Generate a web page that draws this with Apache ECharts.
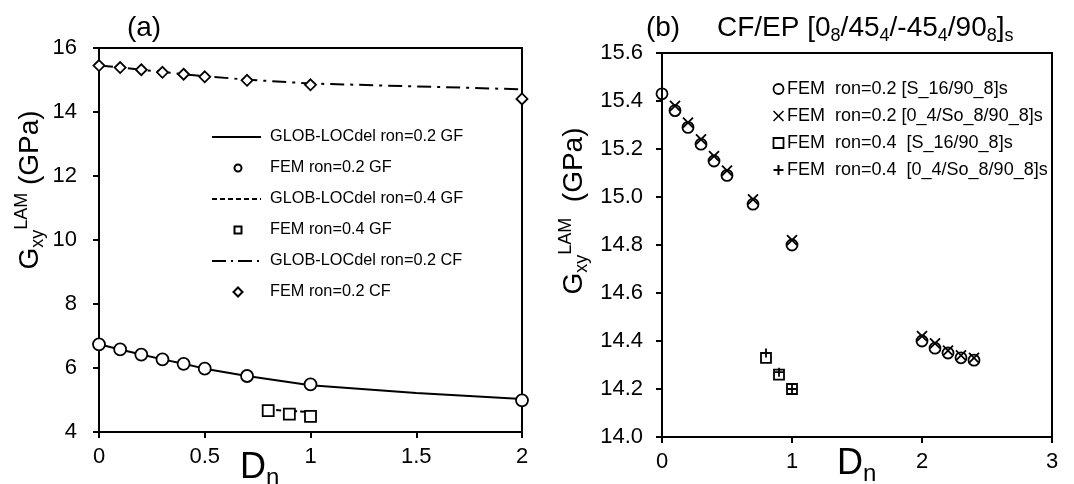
<!DOCTYPE html>
<html>
<head>
<meta charset="utf-8">
<script src="https://cdn.jsdelivr.net/npm/echarts@6/dist/echarts.min.js"></script>
<style>
  html, body { margin: 0; padding: 0; background: #fff; }
  #chart { width: 1074px; height: 484px; }
</style>
</head>
<body>
<div id="chart"></div>
<script>
const FONT = '"Liberation Sans", Arial, sans-serif';

// panel (a): GF and CF laminates
const aX = [0, 0.1, 0.2, 0.3, 0.4, 0.5, 0.7, 1, 2];
const aFemGF02 = [6.74, 6.58, 6.42, 6.27, 6.13, 5.98, 5.75, 5.49, 4.99];
const aFemCF02 = [15.45, 15.39, 15.32, 15.24, 15.18, 15.10, 14.99, 14.85, 14.41];
const aGlobX = [0, 0.1, 0.2, 0.3, 0.4, 0.5, 0.7, 1, 1.5, 2];
const aGlobGF02 = [6.74, 6.58, 6.42, 6.27, 6.13, 5.98, 5.75, 5.46, 5.22, 5.03];
const aGlobCF02 = [15.45, 15.39, 15.32, 15.25, 15.18, 15.12, 15.01, 14.89, 14.80, 14.71];
const aX04 = [0.8, 0.9, 1];
const aFemGF04 = [4.67, 4.56, 4.49];
const aGlobGF04 = [4.70, 4.66, 4.62];

// panel (b): CF/EP [0_8/45_4/-45_4/90_8]s
const bX02 = [0, 0.1, 0.2, 0.3, 0.4, 0.5, 0.7, 1, 2, 2.1, 2.2, 2.3, 2.4];
const bS16 = [15.43, 15.36, 15.29, 15.22, 15.15, 15.09, 14.97, 14.80, 14.40, 14.37, 14.35, 14.33, 14.32];
const bXso = [0.1, 0.2, 0.3, 0.4, 0.5, 0.7, 1, 2, 2.1, 2.2, 2.3, 2.4];
const bSo8 = [15.38, 15.31, 15.24, 15.17, 15.11, 14.99, 14.82, 14.42, 14.39, 14.36, 14.34, 14.33];
const bX04 = [0.8, 0.9, 1];
const bS16r04 = [14.33, 14.26, 14.20];
const bSo8r04 = [14.35, 14.27, 14.20];

const aLegend = [
  'GLOB-LOCdel ron=0.2 GF', 'FEM ron=0.2 GF',
  'GLOB-LOCdel ron=0.4 GF', 'FEM ron=0.4 GF',
  'GLOB-LOCdel ron=0.2 CF', 'FEM ron=0.2 CF'
];
const bLegend = [
  'FEM  ron=0.2 [S_16/90_8]s', 'FEM  ron=0.2 [0_4/So_8/90_8]s',
  'FEM  ron=0.4  [S_16/90_8]s', 'FEM  ron=0.4  [0_4/So_8/90_8]s'
];

const zip = (xs, ys) => xs.map((x, i) => [x, ys[i]]);

const CROSS = 'path://M0,0L10,10M0,10L10,0';
const PLUS = 'path://M5,0L5,10M0,5L10,5';

const axisCommon = {
  axisLine: { show: true, onZero: false, lineStyle: { color: '#000', width: 2 } },
  axisTick: { show: true, inside: false, length: 6, lineStyle: { color: '#000', width: 2 } },
  splitLine: { show: false },
  axisLabel: { color: '#000', fontSize: 22, fontFamily: FONT }
};

const markerStyle = { color: '#fff', borderColor: '#000', borderWidth: 1.8, opacity: 1 };
const strokeOnly = { color: 'rgba(0,0,0,0)', borderColor: '#000', borderWidth: 1.8, opacity: 1 };

const lineSeries = (name, data, type, ax) => ({
  name, type: 'line', data, xAxisIndex: ax, yAxisIndex: ax,
  showSymbol: false, symbol: 'none', z: 2, silent: true,
  lineStyle: { color: '#000', width: 2, type }
});
const dotSeries = (name, data, symbol, size, style, ax, z) => ({
  name, type: 'scatter', data, xAxisIndex: ax, yAxisIndex: ax,
  symbol, symbolSize: size, itemStyle: style, z: z || 3, silent: true
});

// legend rows drawn by hand, panel (a)
const aRowY = aLegend.map((_, i) => 137 + 31 * i);
const aDashes = ['solid', null, [5, 3], null, [14, 5, 2, 5], null];
const legendA = [];
aLegend.forEach((t, i) => {
  const y = aRowY[i];
  if (aDashes[i]) {
    legendA.push({ type: 'line', shape: { x1: 212, y1: y, x2: 261, y2: y },
      style: { stroke: '#000', lineWidth: 2, lineDash: aDashes[i] === 'solid' ? null : aDashes[i] } });
  }
  legendA.push({ type: 'text', x: 270, y, style: { text: t, font: '16.3px ' + FONT, fill: '#000', verticalAlign: 'middle' } });
});
legendA.push({ type: 'circle', shape: { cx: 238, cy: aRowY[1], r: 3.5 }, style: { fill: '#fff', stroke: '#000', lineWidth: 2 } });
legendA.push({ type: 'rect', shape: { x: 234.5, y: aRowY[3] - 3.5, width: 7, height: 7 }, style: { fill: '#fff', stroke: '#000', lineWidth: 2 } });
legendA.push({ type: 'polygon', shape: { points: [[238, aRowY[5] - 4.5], [242.5, aRowY[5]], [238, aRowY[5] + 4.5], [233.5, aRowY[5]]] }, style: { fill: '#fff', stroke: '#000', lineWidth: 2 } });

// legend rows, panel (b)
const bRowY = bLegend.map((_, i) => 89 + 27 * i);
const legendB = [];
bLegend.forEach((t, i) => {
  legendB.push({ type: 'text', x: 787, y: bRowY[i], style: { text: t, font: '18px ' + FONT, fill: '#000', verticalAlign: 'middle' } });
});
const sx = 778.5;
legendB.push({ type: 'circle', shape: { cx: sx, cy: bRowY[0], r: 5 }, style: { fill: 'none', stroke: '#000', lineWidth: 1.8 } });
legendB.push({ type: 'polyline', shape: { points: [[sx - 5, bRowY[1] - 5], [sx + 5, bRowY[1] + 5]] }, style: { stroke: '#000', lineWidth: 1.5 } });
legendB.push({ type: 'polyline', shape: { points: [[sx - 5, bRowY[1] + 5], [sx + 5, bRowY[1] - 5]] }, style: { stroke: '#000', lineWidth: 1.5 } });
legendB.push({ type: 'rect', shape: { x: sx - 5, y: bRowY[2] - 5, width: 10, height: 10 }, style: { fill: 'none', stroke: '#000', lineWidth: 1.8 } });
legendB.push({ type: 'polyline', shape: { points: [[sx, bRowY[3] - 5], [sx, bRowY[3] + 5]] }, style: { stroke: '#000', lineWidth: 2 } });
legendB.push({ type: 'polyline', shape: { points: [[sx - 5, bRowY[3]], [sx + 5, bRowY[3]]] }, style: { stroke: '#000', lineWidth: 2 } });

const subRich = {
  m: { fontSize: 28, fontFamily: FONT, lineHeight: 34, verticalAlign: 'middle' },
  sub: { fontSize: 18, fontFamily: FONT, lineHeight: 18, verticalAlign: 'bottom' },
  sup: { fontSize: 18, fontFamily: FONT, lineHeight: 20, verticalAlign: 'top' }
};
const dRich = {
  m: { fontSize: 36, fontFamily: FONT, lineHeight: 44 },
  sub: { fontSize: 24, fontFamily: FONT, lineHeight: 22, verticalAlign: 'bottom' }
};

const texts = [
  { type: 'text', x: 144, y: 28, style: { text: '(a)', font: '28px ' + FONT, fill: '#000', align: 'center', verticalAlign: 'middle' } },
  { type: 'text', x: 663, y: 28, style: { text: '(b)', font: '28px ' + FONT, fill: '#000', align: 'center', verticalAlign: 'middle' } },
  { type: 'text', x: 717, y: 28, style: {
      text: '{m|CF/EP [0}{sub|8}{m|/45}{sub|4}{m|/-45}{sub|4}{m|/90}{sub|8}{m|]}{sub|s}',
      rich: subRich, fill: '#000', align: 'left', verticalAlign: 'middle' } },
  { type: 'text', x: 30, y: 190, rotation: Math.PI / 2, style: {
      text: '{m|G}{sub|xy}{sup|LAM}{m| (GPa)}', rich: subRich, fill: '#000', align: 'center', verticalAlign: 'middle' } },
  { type: 'text', x: 574, y: 211, rotation: Math.PI / 2, style: {
      text: '{m|G}{sub|xy}{sup|LAM}{m|  (GPa)}', rich: subRich, fill: '#000', align: 'center', verticalAlign: 'middle' } },
  { type: 'text', x: 240, y: 468, style: { text: '{m|D}{sub|n}', rich: dRich, fill: '#000', align: 'left', verticalAlign: 'middle' } },
  { type: 'text', x: 837, y: 464, style: { text: '{m|D}{sub|n}', rich: dRich, fill: '#000', align: 'left', verticalAlign: 'middle' } }
];

const chart = echarts.init(document.getElementById('chart'), null, { renderer: 'canvas' });

chart.setOption({
  backgroundColor: '#fff',
  animation: false,
  grid: [
    { left: 99, top: 48, width: 423, height: 384, show: true, borderColor: '#000', borderWidth: 2, backgroundColor: 'transparent' },
    { left: 662, top: 53, width: 390, height: 384, show: true, borderColor: '#000', borderWidth: 2, backgroundColor: 'transparent' }
  ],
  xAxis: [
    Object.assign({ type: 'value', gridIndex: 0, min: 0, max: 2, interval: 0.5 }, axisCommon,
      { axisLabel: Object.assign({}, axisCommon.axisLabel, { margin: 14 }) }),
    Object.assign({ type: 'value', gridIndex: 1, min: 0, max: 3, interval: 1 }, axisCommon,
      { axisLabel: Object.assign({}, axisCommon.axisLabel, { margin: 14 }) })
  ],
  yAxis: [
    Object.assign({ type: 'value', gridIndex: 0, min: 4, max: 16, interval: 2 }, axisCommon,
      { axisLabel: Object.assign({}, axisCommon.axisLabel, { margin: 22 }) }),
    Object.assign({ type: 'value', gridIndex: 1, min: 14, max: 15.6, interval: 0.2 }, axisCommon,
      { axisLabel: Object.assign({}, axisCommon.axisLabel, { margin: 19, formatter: v => v.toFixed(1) }) })
  ],
  series: [
    lineSeries(aLegend[0], zip(aGlobX, aGlobGF02), 'solid', 0),
    lineSeries(aLegend[2], zip(aX04, aGlobGF04), [5, 3], 0),
    lineSeries(aLegend[4], zip(aGlobX, aGlobCF02), [14, 6, 3, 6], 0),
    dotSeries(aLegend[1], zip(aX, aFemGF02), 'circle', 12, markerStyle, 0),
    dotSeries(aLegend[3], zip(aX04, aFemGF04), 'rect', 11, markerStyle, 0),
    dotSeries(aLegend[5], zip(aX, aFemCF02), 'diamond', 11, markerStyle, 0),
    dotSeries(bLegend[0], zip(bX02, bS16), 'circle', 11, strokeOnly, 1),
    dotSeries(bLegend[1], zip(bXso, bSo8), CROSS, 10, strokeOnly, 1, 4),
    dotSeries(bLegend[2], zip(bX04, bS16r04), 'rect', 10, markerStyle, 1),
    dotSeries(bLegend[3], zip(bX04, bSo8r04), PLUS, 9, strokeOnly, 1, 4)
  ],
  graphic: [].concat(legendA, legendB, texts)
});
</script>
</body>
</html>
